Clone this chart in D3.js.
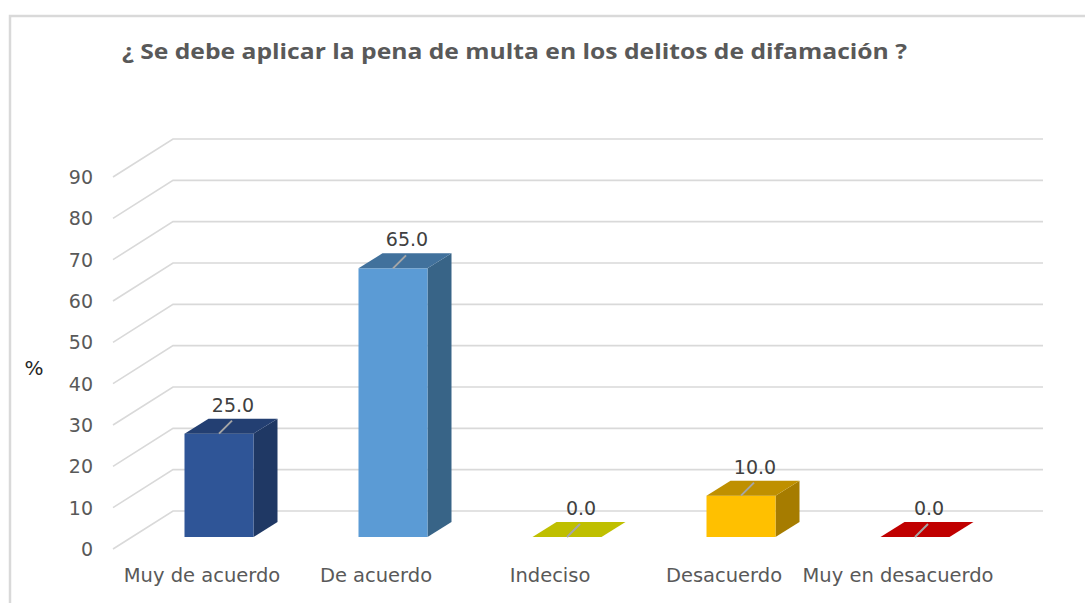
<!DOCTYPE html>
<html>
<head>
<meta charset="utf-8">
<script src="https://cdn.jsdelivr.net/npm/d3@7"></script>
<style>
  body { margin: 0; background: #fff; }
  svg { display: block; }
</style>
</head>
<body>
<svg id="chart" width="1085" height="603"></svg>
<script>
let categories = ["Muy de acuerdo", "De acuerdo", "Indeciso", "Desacuerdo", "Muy en desacuerdo"];
let values = [25.0, 65.0, 0.0, 10.0, 0.0];
let yTicks = [0, 10, 20, 30, 40, 50, 60, 70, 80, 90];
let title = "¿ Se debe aplicar la pena de multa en los delitos de difamación ?";

// front / top / side colours for each bar
let fronts = ["#2f5597", "#5b9bd5", "#bfbf00", "#ffc000", "#c00000"];
let tops   = ["#233f72", "#41719c", "#bfbf00", "#bf9000", "#c00000"];
let sides  = ["#1f3864", "#386487", "#8f8f00", "#a67c00", "#900000"];

let svg = d3.select('#chart');
let font = 'DejaVu Sans, Verdana, sans-serif';

// border of the chart area
svg.append('path')
   .attr('d', 'M10,603 L10,16 L1085,16')
   .attr('fill', 'none')
   .attr('stroke', '#d9d9d9')
   .attr('stroke-width', 2.5);

// back wall scales
let x = d3.scaleBand().domain(categories).range([173, 1043]);
let y = d3.scaleLinear().domain([0, 90]).range([511, 139]);

let floor = {dx: -60, dy: 38};    // back wall -> front edge of floor
let barOff = {dx: -41, dy: 26};   // back wall -> bar front face
let depth = {dx: 24, dy: -15};    // bar depth
let barW = 69;

// gridlines (back wall + floor diagonal)
let grid = svg.append('g').attr('class', 'grid');
yTicks.forEach(t => {
    grid.append('path')
        .attr('d', 'M' + (173 + floor.dx) + ',' + (y(t) + floor.dy) +
                   ' L173,' + y(t) + ' L1043,' + y(t))
        .attr('fill', 'none')
        .attr('stroke', '#d9d9d9')
        .attr('stroke-width', 1.6);
});

// y tick labels
svg.append('g').selectAll('text').data(yTicks).enter().append('text')
   .attr('x', 93)
   .attr('y', d => y(d) + floor.dy + 7)
   .attr('text-anchor', 'end')
   .attr('font-family', font)
   .attr('font-size', 19)
   .attr('fill', '#595959')
   .text(d => d);

svg.append('text')
   .attr('x', 34).attr('y', 375)
   .attr('text-anchor', 'middle')
   .attr('font-family', font)
   .attr('font-size', 20)
   .attr('fill', '#262626')
   .text('%');

// bars
let bars = svg.append('g').attr('class', 'bars')
   .selectAll('g').data(values).enter().append('g');

bars.each(function(v, i) {
    let g = d3.select(this);
    let cx = x(categories[i]) + x.bandwidth() / 2 + barOff.dx;
    let x0 = cx - barW / 2, x1 = cx + barW / 2;
    let yb = y(0) + barOff.dy, yt = y(v) + barOff.dy;
    if (v > 0) {
        g.append('path')  // side
         .attr('d', `M${x1},${yb} L${x1 + depth.dx},${yb + depth.dy} L${x1 + depth.dx},${yt + depth.dy} L${x1},${yt} Z`)
         .attr('fill', sides[i]);
        g.append('rect')  // front
         .attr('x', x0).attr('y', yt)
         .attr('width', barW).attr('height', yb - yt)
         .attr('fill', fronts[i]);
    }
    g.append('path')  // top
     .attr('d', `M${x0},${yt} L${x1},${yt} L${x1 + depth.dx},${yt + depth.dy} L${x0 + depth.dx},${yt + depth.dy} Z`)
     .attr('fill', tops[i]);

    // leader line + value label
    g.append('line')
     .attr('x1', cx).attr('y1', yt)
     .attr('x2', cx + 13).attr('y2', yt - 13)
     .attr('stroke', '#a6a6a6')
     .attr('stroke-width', 2);
    g.append('text')
     .attr('x', cx + 14)
     .attr('y', yt - 22)
     .attr('text-anchor', 'middle')
     .attr('font-family', font)
     .attr('font-size', 19)
     .attr('fill', '#404040')
     .text(d3.format('.1f')(v));
});

// category labels
svg.append('g').selectAll('text').data(categories).enter().append('text')
   .attr('x', d => x(d) + x.bandwidth() / 2 - 58)
   .attr('y', 582)
   .attr('text-anchor', 'middle')
   .attr('font-family', font)
   .attr('font-size', 19.5)
   .attr('fill', '#595959')
   .text(d => d);

// title
svg.append('text')
   .attr('x', 122).attr('y', 59)
   .attr('font-family', 'Open Sans, sans-serif')
   .attr('font-weight', 'bold')
   .attr('font-size', 21)
   .attr('fill', '#595959')
   .attr('textLength', 785)
   .attr('lengthAdjust', 'spacingAndGlyphs')
   .text(title);
</script>
</body>
</html>
